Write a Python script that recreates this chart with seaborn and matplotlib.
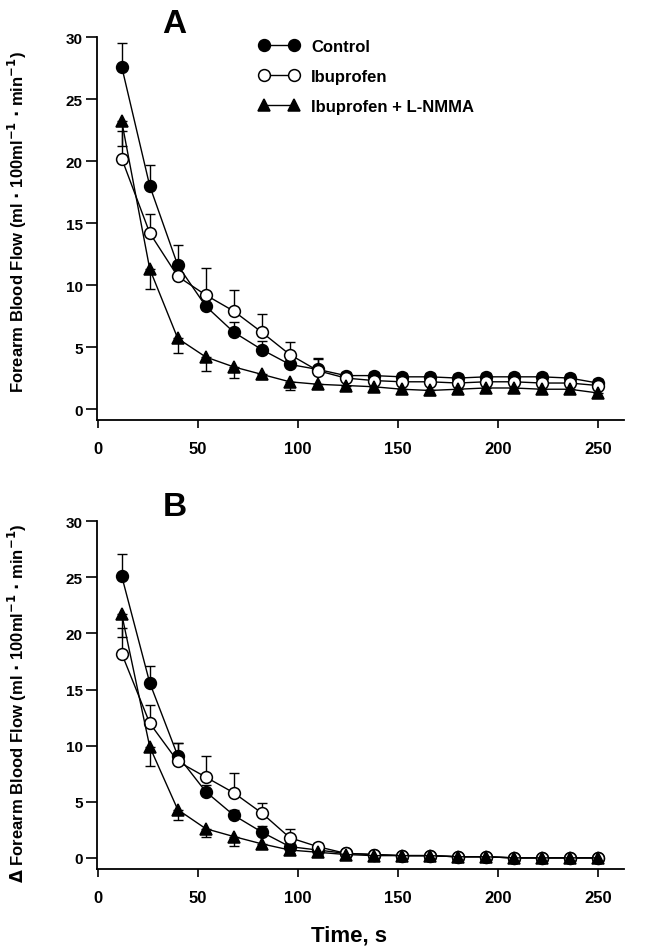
import numpy as np
import pandas as pd
import matplotlib
matplotlib.use('Agg')
import matplotlib.pyplot as plt
import seaborn as sns

# time points (s)
time = [12, 26, 40, 54, 68, 82, 96, 110, 124, 138, 152, 166, 180, 194, 208, 222, 236, 250]

# panel A - forearm blood flow
ctrl_a = [27.6, 18.0, 11.6, 8.3, 6.2, 4.8, 3.6, 3.2, 2.7, 2.7, 2.6, 2.6, 2.5, 2.6, 2.6, 2.6, 2.5, 2.1]
ctrl_a_err = [1.9, 1.7, 1.6, 1.0, 0.8, 0.7, 0.5, 0.9, 0.3, 0.3, 0.3, 0.3, 0.3, 0.3, 0.3, 0.3, 0.3, 0.3]
ibu_a = [20.2, 14.2, 10.7, 9.2, 7.9, 6.2, 4.4, 3.1, 2.5, 2.3, 2.2, 2.2, 2.1, 2.2, 2.2, 2.1, 2.1, 1.9]
ibu_a_err = [2.2, 1.5, 1.2, 2.2, 1.7, 1.5, 1.0, 0.9, 0.3, 0.3, 0.3, 0.3, 0.3, 0.3, 0.3, 0.3, 0.3, 0.3]
lnmma_a = [23.2, 11.3, 5.7, 4.2, 3.4, 2.8, 2.2, 2.0, 1.9, 1.8, 1.6, 1.5, 1.6, 1.7, 1.7, 1.6, 1.6, 1.3]
lnmma_a_err = [2.0, 1.6, 1.2, 1.1, 0.9, 0.4, 0.7, 0.3, 0.3, 0.3, 0.3, 0.4, 0.3, 0.3, 0.3, 0.3, 0.3, 0.3]

# panel B - delta forearm blood flow
ctrl_b = [25.1, 15.6, 9.1, 5.9, 3.8, 2.3, 1.0, 0.7, 0.4, 0.3, 0.2, 0.2, 0.1, 0.1, 0.0, 0.0, 0.0, 0.0]
ctrl_b_err = [2.0, 1.5, 1.1, 0.6, 0.5, 0.5, 0.4, 0.3, 0.2, 0.2, 0.2, 0.2, 0.2, 0.2, 0.2, 0.2, 0.2, 0.2]
ibu_b = [18.2, 12.0, 8.6, 7.2, 5.8, 4.0, 1.8, 1.0, 0.4, 0.3, 0.2, 0.2, 0.1, 0.1, 0.0, 0.0, 0.0, 0.0]
ibu_b_err = [2.3, 1.6, 1.6, 1.9, 1.8, 0.9, 0.8, 0.3, 0.2, 0.2, 0.2, 0.2, 0.2, 0.2, 0.2, 0.2, 0.2, 0.2]
lnmma_b = [21.7, 9.9, 4.3, 2.6, 1.9, 1.25, 0.7, 0.5, 0.3, 0.2, 0.2, 0.2, 0.1, 0.1, 0.0, 0.0, 0.0, 0.0]
lnmma_b_err = [2.0, 1.7, 0.9, 0.7, 0.8, 0.4, 0.3, 0.2, 0.2, 0.2, 0.2, 0.2, 0.2, 0.2, 0.2, 0.2, 0.2, 0.2]

labels = ['Control', 'Ibuprofen', 'Ibuprofen + L-NMMA']

sns.set_style('ticks')
plt.rcParams['font.family'] = ['Liberation Sans', 'DejaVu Sans']
plt.rcParams['font.weight'] = 'bold'
plt.rcParams['axes.labelweight'] = 'bold'
plt.rcParams['text.color'] = 'black'
plt.rcParams['axes.labelcolor'] = 'black'
plt.rcParams['axes.edgecolor'] = 'black'
plt.rcParams['xtick.color'] = 'black'
plt.rcParams['ytick.color'] = 'black'
plt.rcParams['mathtext.default'] = 'bf'

fig = plt.figure(figsize=(6.45, 9.53), dpi=100)
ax_a = fig.add_axes([0.150, 0.558, 0.817, 0.402])
ax_b = fig.add_axes([0.150, 0.087, 0.817, 0.365])

styles = [dict(marker='o', mfc='black'), dict(marker='o', mfc='white'), dict(marker='^', mfc='black')]


def panel(ax, series, ylim):
    for (vals, err, up), lab, st in zip(series, labels, styles):
        df = pd.DataFrame({'t': time, 'v': vals})
        sns.lineplot(data=df, x='t', y='v', ax=ax, color='black', lw=1.0,
                     marker=st['marker'], markersize=8.5,
                     markerfacecolor=st['mfc'], markeredgecolor='black', markeredgewidth=1.1,
                     label=lab, zorder=3)
        e = np.array(err)
        z = np.zeros_like(e)
        yerr = [z, e] if up else [e, z]
        ax.errorbar(time, vals, yerr=yerr, fmt='none', ecolor='black', elinewidth=1.0,
                    capsize=3.5, capthick=1.0, zorder=2)
    ax.set_xlim(-0.5, 263)
    ax.set_ylim(*ylim)
    ax.set_xticks([0, 50, 100, 150, 200, 250])
    ax.set_yticks([0, 5, 10, 15, 20, 25, 30])
    for s in ['top', 'right']:
        ax.spines[s].set_visible(False)
    for s in ['left', 'bottom']:
        ax.spines[s].set_linewidth(1.3)
    ax.tick_params(axis='x', labelsize=12, width=1.2, length=6, pad=9, direction='out')
    ax.tick_params(axis='y', labelsize=11, width=1.2, length=8, pad=2, direction='out')
    for t in ax.get_xticklabels() + ax.get_yticklabels():
        t.set_fontweight('bold')


panel(ax_a, [(ctrl_a, ctrl_a_err, True), (ibu_a, ibu_a_err, True), (lnmma_a, lnmma_a_err, False)], (-0.9, 30))
panel(ax_b, [(ctrl_b, ctrl_b_err, True), (ibu_b, ibu_b_err, True), (lnmma_b, lnmma_b_err, False)], (-1.0, 30))

leg = ax_a.legend(loc='upper left', bbox_to_anchor=(0.28, 1.035), frameon=False, fontsize=12,
                  handlelength=2.4, numpoints=2, labelspacing=0.9, handletextpad=0.7)
for t in leg.get_texts():
    t.set_fontweight('bold')
ax_b.get_legend().remove()

ax_a.set_xlabel('')
ax_b.set_xlabel('Time, s', fontsize=16, fontweight='bold')
ax_b.xaxis.set_label_coords(0.478, -0.16)
ax_a.set_ylabel('Forearm Blood Flow (ml $\\cdot$ 100ml$^{-1}$ $\\cdot$ min$^{-1}$)', fontsize=12, fontweight='bold')
ax_b.set_ylabel('$\\Delta$ Forearm Blood Flow (ml $\\cdot$ 100ml$^{-1}$ $\\cdot$ min$^{-1}$)', fontsize=12, fontweight='bold')
ax_a.yaxis.set_label_coords(-0.128, 0.52)
ax_b.yaxis.set_label_coords(-0.128, 0.48)

fig.text(174.5 / 645, 1 - 24.5 / 953, 'A', fontsize=24, fontweight='bold', ha='center', va='center')
fig.text(174.5 / 645, 1 - 508 / 953, 'B', fontsize=24, fontweight='bold', ha='center', va='center')

fig.savefig('out.png', dpi=100)
